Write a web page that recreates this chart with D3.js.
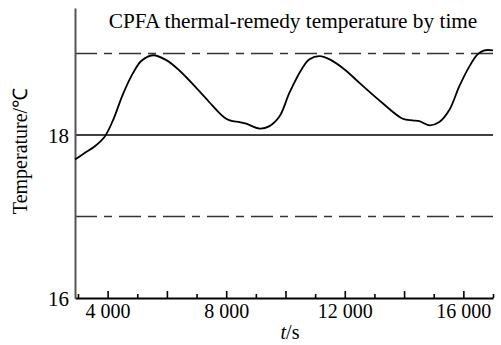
<!DOCTYPE html>
<html>
<head>
<meta charset="utf-8">
<script src="https://cdn.jsdelivr.net/npm/d3@7"></script>
<style>
  html, body { margin: 0; padding: 0; background: #fff; }
  svg text { font-family: "Liberation Serif", "Times New Roman", serif !important; fill: #000; }
</style>
</head>
<body>
<div id="chart"></div>
<script>
// time (s) and temperature (°C)
const timeSec = [2900, 3225, 3560, 3900, 4180, 4515, 4855, 5135, 5530, 5980, 6430,
  6990, 7440, 7775, 8000, 8215, 8450, 8675, 9125, 9460, 9800, 10135, 10530, 10810,
  11150, 11540, 12045, 12495, 13280, 13955, 14290, 14515, 14855, 15190,
  15530, 15865, 16200, 16480, 16710, 17000];
const tempC = [17.70, 17.78, 17.86, 17.98, 18.18, 18.50, 18.76, 18.91, 18.98, 18.92, 18.79,
  18.58, 18.40, 18.27, 18.20, 18.17, 18.16, 18.14, 18.08, 18.11, 18.23, 18.52, 18.80, 18.93,
  18.97, 18.92, 18.79, 18.64, 18.39, 18.20, 18.18, 18.17, 18.12, 18.16,
  18.31, 18.60, 18.84, 18.99, 19.04, 19.04];

// reference levels: lower bound, set point, upper bound
const refLevels = [17, 18, 19];
const refDashed = [true, false, true];

// tick labels
const xTickLabels = [4000, 8000, 12000, 16000];
const yTickLabels = [16, 18];

const totalWidth = 501;
const totalHeight = 345;
// plot edges in pixels
const plotLeft = 75, plotRight = 493, plotTop = 8, plotBottom = 298;

const svg = d3.select("#chart")
  .append("svg")
  .attr("width", totalWidth)
  .attr("height", totalHeight);

const x = d3.scaleLinear().domain([2900, 17000]).range([plotLeft, plotRight]);
const y = d3.scaleLinear().domain([16, 19.56]).range([plotBottom, plotTop]);

// reference lines
svg.append("g")
  .selectAll("line")
  .data(refLevels)
  .join("line")
  .attr("x1", plotLeft)
  .attr("x2", plotRight)
  .attr("y1", d => y(d))
  .attr("y2", d => y(d))
  .attr("stroke", (d, i) => refDashed[i] ? "#333" : "#000")
  .attr("stroke-width", 1.5)
  .attr("stroke-dasharray", (d, i) => refDashed[i] ? "22,7,8,7" : null);

// minor ticks every 1000, major every 2000, pointing inward
const minor = d3.range(3000, 17001, 1000);
svg.append("g")
  .attr("transform", "translate(0," + plotBottom + ")")
  .call(d3.axisBottom(x).tickValues(minor).tickSize(0).tickFormat(""))
  .call(g => g.select(".domain").remove())
  .call(g => g.selectAll(".tick line")
    .attr("y2", d => d % 2000 === 0 ? -7 : -4)
    .attr("stroke", "#000")
    .attr("stroke-width", 1.6));

// x axis line and labels
const xAxis = svg.append("g")
  .attr("transform", "translate(0," + plotBottom + ")")
  .call(d3.axisBottom(x)
    .tickValues(xTickLabels)
    .tickSize(0)
    .tickPadding(6)
    .tickFormat(d => d3.format(",")(d).replace(",", " ")));
xAxis.select(".domain").attr("stroke", "#000").attr("stroke-width", 1.8);
xAxis.selectAll("text")
  .attr("dy", "0.71em")
  .style("font-size", "20px");

// y axis
const yAxis = svg.append("g")
  .attr("transform", "translate(" + plotLeft + ",0)")
  .call(d3.axisLeft(y).tickValues(yTickLabels).tickFormat(d3.format("d")).tickSize(0).tickPadding(6));
yAxis.select(".domain").attr("stroke", "#555").attr("stroke-width", 2);
yAxis.selectAll("text")
  .attr("dy", "0.35em")
  .style("font-size", "21px");

// curve
const line = d3.line()
  .x((d, i) => x(timeSec[i]))
  .y(d => y(d))
  .curve(d3.curveCatmullRom.alpha(0.5));

svg.append("path")
  .datum(tempC)
  .attr("fill", "none")
  .attr("stroke", "#000")
  .attr("stroke-width", 1.8)
  .attr("stroke-linejoin", "round")
  .attr("d", line);

// title
svg.append("text")
  .attr("x", 293)
  .attr("y", 28)
  .attr("text-anchor", "middle")
  .style("font-size", "21.3px")
  .text("CPFA thermal-remedy temperature by time");

// axis titles
svg.append("text")
  .attr("transform", "translate(27,151) rotate(-90)")
  .attr("text-anchor", "middle")
  .style("font-size", "20px")
  .text("Temperature/\u2103");

const xt = svg.append("text")
  .attr("x", 290)
  .attr("y", 339)
  .attr("text-anchor", "middle")
  .style("font-size", "20px");
xt.append("tspan").style("font-style", "italic").text("t");
xt.append("tspan").text("/s");
</script>
</body>
</html>
